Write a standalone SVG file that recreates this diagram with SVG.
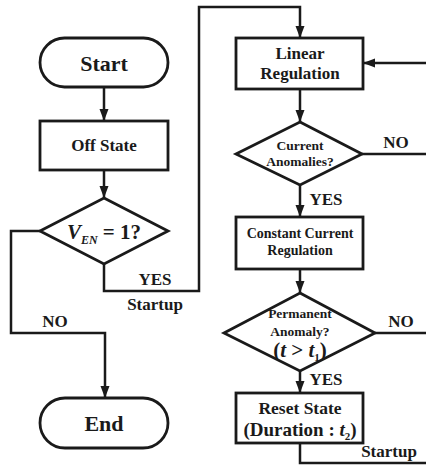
<svg xmlns="http://www.w3.org/2000/svg" width="426" height="472" viewBox="0 0 426 472">
<defs>
<style>
.shape{fill:#fff;stroke:#1a1a1a;stroke-width:2.8}
.line{fill:none;stroke:#1a1a1a;stroke-width:2.5}
text{font-family:"Liberation Serif","Times New Roman",serif;font-weight:bold;fill:#1a1a1a;text-anchor:middle}
.lbl{font-size:17px}
.it{font-style:italic}
</style>
<marker id="ah" markerUnits="userSpaceOnUse" markerWidth="12" markerHeight="12" viewBox="0 0 12 12" refX="12" refY="6" orient="auto">
<path d="M0,1.5 L12,6 L0,10.5 Z" fill="#1a1a1a"/>
</marker>
</defs>
<g id="connectors">
<line class="line" x1="104" y1="88" x2="104" y2="121" marker-end="url(#ah)"/>
<line class="line" x1="104" y1="170" x2="104" y2="198" marker-end="url(#ah)"/>
<polyline class="line" points="40,231 11,231 11,333 105,333 105,398" marker-end="url(#ah)"/>
<polyline class="line" points="104,264 104,291 199,291 199,7 300,7 300,38" marker-end="url(#ah)"/>
<line class="line" x1="426" y1="63" x2="363" y2="63" marker-end="url(#ah)"/>
<line class="line" x1="300" y1="89" x2="300" y2="122" marker-end="url(#ah)"/>
<line class="line" x1="362" y1="154" x2="426" y2="154"/>
<line class="line" x1="300" y1="185" x2="300" y2="217" marker-end="url(#ah)"/>
<line class="line" x1="300" y1="269" x2="300" y2="293" marker-end="url(#ah)"/>
<line class="line" x1="375" y1="333" x2="426" y2="333"/>
<line class="line" x1="300" y1="371" x2="300" y2="393" marker-end="url(#ah)"/>
<polyline class="line" points="300,443 300,463 426,463"/>
<text class="lbl" x="155" y="285">YES</text>
<text class="lbl" x="155" y="310">Startup</text>
<text class="lbl" x="55" y="327">NO</text>
<text class="lbl" x="326" y="205">YES</text>
<text class="lbl" x="396" y="148">NO</text>
<text class="lbl" x="326" y="385">YES</text>
<text class="lbl" x="401" y="327">NO</text>
<text class="lbl" x="389" y="457">Startup</text>
</g>
<g id="start">
<rect class="shape" x="40" y="38" width="128" height="49" rx="24.5"/>
<text x="104" y="71" font-size="22">Start</text>
</g>
<g id="off-state">
<rect class="shape" x="40" y="121" width="128" height="49"/>
<text x="104" y="151" font-size="17">Off State</text>
</g>
<g id="ven-decision">
<polygon class="shape" points="104,198 168,231 104,264 40,231"/>
<text x="104" y="239" font-size="21"><tspan class="it">V</tspan><tspan class="it" font-size="12" dy="5">EN</tspan><tspan dy="-5"> = 1?</tspan></text>
</g>
<g id="end">
<rect class="shape" x="40" y="398" width="128" height="50" rx="25"/>
<text x="104" y="431" font-size="22">End</text>
</g>
<g id="linear-regulation">
<rect class="shape" x="236" y="38" width="127" height="51"/>
<text x="300" y="59" font-size="17">Linear</text>
<text x="300" y="79" font-size="17">Regulation</text>
</g>
<g id="current-anomalies">
<polygon class="shape" points="300,122 362,154 300,185 236,154"/>
<text x="300" y="150" font-size="13.5">Current</text>
<text x="300" y="166" font-size="13.5">Anomalies?</text>
</g>
<g id="constant-current">
<rect class="shape" x="236" y="217" width="127" height="52"/>
<text x="300" y="238" font-size="14">Constant Current</text>
<text x="300" y="255" font-size="14">Regulation</text>
</g>
<g id="permanent-anomaly">
<polygon class="shape" points="300,293 375,333 300,371 224,333"/>
<text x="300" y="318" font-size="13.5">Permanent</text>
<text x="300" y="336" font-size="13.5">Anomaly?</text>
<text x="300" y="357" font-size="21">(<tspan class="it">t</tspan> &gt; <tspan class="it">t</tspan><tspan font-size="11" dy="4">1</tspan><tspan dy="-4">)</tspan></text>
</g>
<g id="reset-state">
<rect class="shape" x="236" y="393" width="127" height="50"/>
<text x="300" y="414" font-size="17.5">Reset State</text>
<text x="300" y="436" font-size="19">(Duration : <tspan class="it">t</tspan><tspan font-size="11" dy="4">2</tspan><tspan dy="-4">)</tspan></text>
</g>
</svg>
